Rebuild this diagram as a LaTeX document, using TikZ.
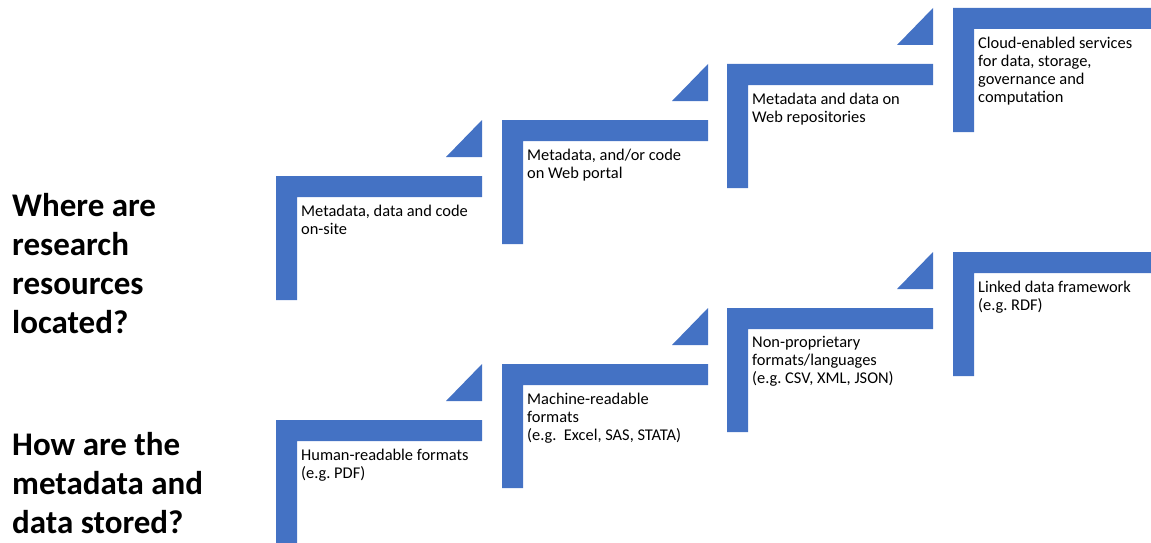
\documentclass[tikz,border=0pt]{standalone}
\usepackage{fontspec}
\setmainfont{Carlito}
\usepackage{tikz}
\usetikzlibrary{positioning}
\frenchspacing
\definecolor{stairblue}{HTML}{4472C4}
\tikzset{
  stair/.style={fill=stairblue},
  steptext/.style={align=left,inner sep=0pt,font=\fontsize{16.4}{18}\selectfont},
  question/.style={anchor=north west,align=left,inner sep=0pt,font=\fontsize{33}{39}\selectfont\bfseries},
}

\begin{document}
\begin{tikzpicture}[x=1pt,y=-1pt]
    \useasboundingbox (0,0) rectangle (1151,543);

    \node[question] (Q1) at (12,193.5) {Where are\\research\\resources\\located?};
    \node[question] (Q2) at (12,432.5) {How are the\\metadata and\\data stored?};

    % the L-shaped steps, corner coordinate inside each L
    \foreach \n/\x/\y/\t in {
        L1/276/176/{Metadata, data and code\\on-site},
        L2/502/120/{Metadata, and/or code\\on Web portal},
        L3/727/64/{Metadata and data on\\Web repositories},
        L4/953/8/{Cloud-enabled services\\for data, storage,\\governance and\\computation},
        S1/276/420/{Human-readable formats\\(e.g. PDF)},
        S2/502/364/{Machine-readable\\formats\\(e.g.\ \ Excel, SAS, STATA)},
        S3/727/308/{Non-proprietary\\formats/languages\\(e.g. CSV, XML, JSON)},
        S4/953/252/{Linked data framework\\(e.g. RDF)}}
    {
        \fill[stair] (\x,\y) -- ++(206,0) -- ++(0,21) -- ++(-185,0) -- ++(0,103) -- ++(-21,0) -- cycle;
        \coordinate (\n) at (\x+21,\y+21);
        \node[steptext, below right=7.5pt and 4pt of \n] (\n-txt) {\t};
    }

    % small triangles leading up to the next step
    \foreach \x/\y in {276/176, 502/120, 727/64, 276/420, 502/364, 727/308}
        \fill[stair] (\x+170,\y-19) -- (\x+206,\y-19) -- (\x+206,\y-56) -- cycle;
\end{tikzpicture}
\end{document}
